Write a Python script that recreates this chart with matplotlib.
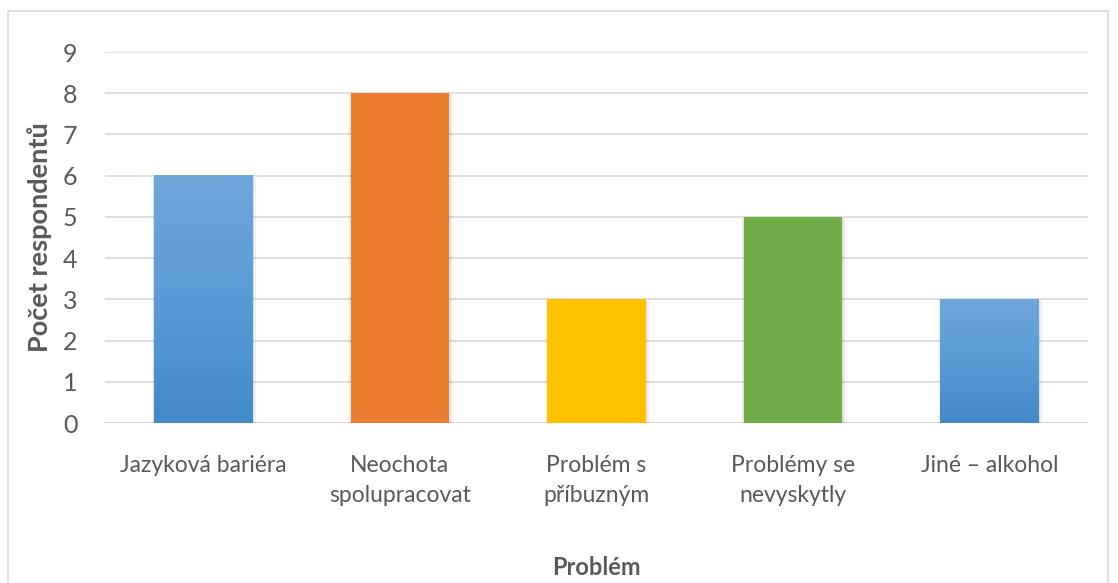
import numpy as np
import matplotlib.pyplot as plt
from matplotlib.patches import Rectangle
from matplotlib.colors import LinearSegmentedColormap

# Data
categories = ['Jazyková bariéra', 'Neochota\nspolupracovat', 'Problém s\npříbuzným',
              'Problémy se\nnevyskytly', 'Jiné – alkohol']
values = [6, 8, 3, 5, 3]
colors = ['gradient', '#ED7D31', '#FFC000', '#70AD47', 'gradient']

plt.rcParams['font.family'] = ['Lato', 'DejaVu Sans']
text_color = '#595959'
fs = 16.5

fig = plt.figure(figsize=(11.18, 5.83), dpi=100)
ax = fig.add_axes([0.094, 0.2744, 0.879, 0.6364])

# outer chart frame
fig.patches.append(Rectangle((8 / 1118, -0.05), 1100 / 1118, 1.05 - 11 / 583,
                             transform=fig.transFigure, fill=False,
                             edgecolor='#d9d9d9', linewidth=1.2))

x = np.arange(len(categories))
bars = ax.bar(x, values, width=0.5, zorder=3, edgecolor='none')

blue_grad = LinearSegmentedColormap.from_list('bl', ['#428AC9', '#5B9BD5', '#70A6DB'])
grad = np.linspace(0, 1, 256).reshape(-1, 1)

for b, c in zip(bars, colors):
    x0, w, h = b.get_x(), b.get_width(), b.get_height()
    # soft shadow
    for k, a in enumerate([0.06, 0.04, 0.02]):
        d = 0.008 * (k + 1)
        ax.add_patch(Rectangle((x0 - d * 0.5, -0.03 - d * 2), w + d * 1.5, h + d * 2,
                               facecolor='black', alpha=a, edgecolor='none', zorder=2))
    if c == 'gradient':
        b.set_facecolor('none')
        ax.imshow(grad, extent=(x0, x0 + w, 0, h), origin='lower', cmap=blue_grad,
                  aspect='auto', zorder=3.5)
    else:
        b.set_facecolor(c)

ax.set_xlim(-0.5, len(categories) - 0.5)
ax.set_ylim(0, 9)
ax.set_yticks(range(0, 10))
ax.yaxis.grid(True, color='#d9d9d9', linewidth=1.2, zorder=0)
ax.set_axisbelow(True)
for s in ax.spines.values():
    s.set_visible(False)
ax.axhline(0, color='#d9d9d9', linewidth=1.2, zorder=1)

ax.set_xticks(x)
ax.set_xticklabels(categories, fontsize=fs, color=text_color, linespacing=1.55)
ax.tick_params(axis='both', length=0, colors=text_color, labelsize=fs + 1.5)
ax.tick_params(axis='x', labelsize=fs, pad=23)
ax.tick_params(axis='y', pad=20)

ax.set_ylabel('Počet respondentů', fontsize=19.5, fontweight='bold', color=text_color, labelpad=8)
ax.set_xlabel('Problém', fontsize=fs + 0.5, fontweight='bold', color=text_color, labelpad=36)

fig.savefig('out.png', dpi=100)
